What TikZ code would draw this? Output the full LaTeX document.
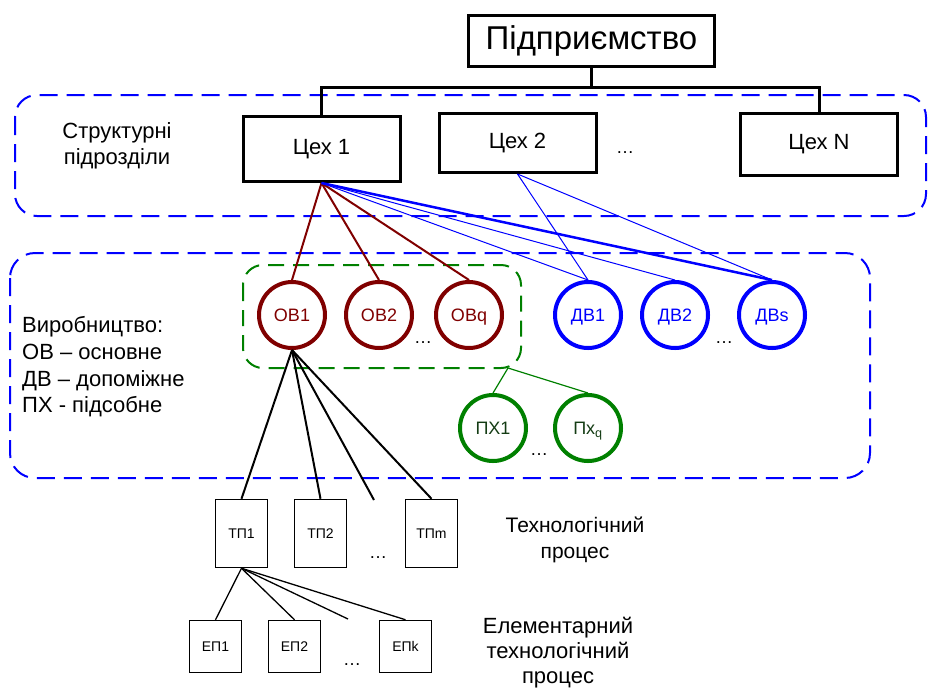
\documentclass[tikz,border=0pt]{standalone}
\usepackage{fontspec}
\setmainfont{Liberation Sans}
\definecolor{obc}{RGB}{128,0,0}
\definecolor{dvc}{RGB}{0,0,255}
\definecolor{pxc}{RGB}{0,128,0}
\definecolor{pxt}{RGB}{20,60,20}
\begin{document}
\begin{tikzpicture}[x=1pt,y=-1pt,
  topbox/.style={draw,line width=3pt,inner sep=0pt,minimum width=246pt,minimum height=51pt,font=\fontsize{33}{36}\selectfont},
  cexbox/.style={draw,line width=3pt,inner sep=0pt,minimum width=157pt,font=\fontsize{22}{25}\selectfont},
  tpbox/.style={draw,line width=1.5pt,inner sep=0pt,minimum width=52pt,minimum height=68pt,font=\fontsize{14}{16}\selectfont},
  epbox/.style={draw,line width=1.5pt,inner sep=0pt,minimum width=52pt,minimum height=52pt,font=\fontsize{14}{16}\selectfont},
  circ/.style={circle,line width=4pt,inner sep=0pt,minimum size=66pt,text height=13pt,text depth=0pt,font=\fontsize{18}{20}\selectfont},
  obcirc/.style={circ,draw=obc,text=obc},
  dvcirc/.style={circ,draw=dvc,text=dvc},
  pxcirc/.style={circ,draw=pxc,text=pxt},
  dashbox/.style={draw=dvc,line width=2pt,dash pattern=on 18pt off 9pt},
  greenbox/.style={draw=pxc,line width=2pt,dash pattern=on 16pt off 9pt,rounded corners=20pt},
  lbl/.style={font=\fontsize{22}{26}\selectfont,align=center,inner sep=0pt},
  dots/.style={font=\fontsize{18}{20}\selectfont,inner sep=0pt},
  obline/.style={draw=obc,line width=2pt},
  dvline/.style={draw=dvc,line width=1pt},
  dvthick/.style={draw=dvc,line width=2.5pt},
  pxline/.style={draw=pxc,line width=1.2pt},
  tpline/.style={draw=black,line width=2pt},
  epline/.style={draw=black,line width=1.3pt}]
\useasboundingbox (0,0) rectangle (928,689);

% dashed group boxes
\draw[dashbox,rounded corners=22pt] (15,95) rectangle (926,216);
\draw[dashbox,rounded corners=25pt] (10,253) rectangle (870,478);
\draw[greenbox] (243,265) rectangle (521,368);

% top level
\node[topbox] (ent) at (591.5,41) {Підприємство};
\node[cexbox,minimum height=65pt] (c1) at (321.5,149) {Цех 1};
\node[cexbox,minimum height=59pt] (c2) at (517.5,143) {Цех 2};
\node[cexbox,minimum height=62pt] (cN) at (819,144.5) {Цех N};
\node[dots] (d0) at (625,153) {…};

\coordinate (bus) at (591.5,87);
\draw[line width=3pt] (ent.south) -- (bus);
\draw[line width=3pt] (c1.north) |- (bus) -| (cN.north);

\node[lbl] (lstr) at (117,146) {Структурні\\підрозділи};

% production circles
\node[obcirc] (ob1) at (292,315) {ОВ1};
\node[obcirc] (ob2) at (379,315) {ОВ2};
\node[obcirc] (obq) at (469,315) {ОВq};
\node[dots] (d1) at (423,343) {…};
\node[dvcirc] (dv1) at (588,315) {ДВ1};
\node[dvcirc] (dv2) at (675,315) {ДВ2};
\node[dvcirc] (dvs) at (772,315) {ДВs};
\node[dots] (d2) at (724,343) {…};
\node[pxcirc] (px1) at (493,428) {ПХ1};
\node[pxcirc] (pxq) at (588,428) {Пх\smash{\textsubscript{q}}};
\node[dots] (d3) at (539,455) {…};

\draw[obline] (c1.south) -- (ob1.north);
\draw[obline] (c1.south) -- (ob2.north);
\draw[obline] (c1.south) -- (obq.north);
\draw[dvline] (c1.south) -- (dv1.north);
\draw[dvline] (c1.south) -- (dv2.north);
\draw[dvthick] (c1.south) -- (dvs.north);
\draw[dvline] (c2.south) -- (dv1.north);
\draw[dvline] (c2.south) -- (dvs.north);

\coordinate (gp) at (508,368);
\draw[pxline] (gp) -- (px1.north);
\draw[pxline] (gp) -- (pxq.north);

\node[font=\fontsize{22}{26.7}\selectfont,align=left,anchor=west,inner sep=0pt] (legend) at (22,367)
  {Виробництво:\\ОВ – основне\\ДВ – допоміжне\\ПХ - підсобне};

% technological processes
\node[tpbox] (tp1) at (241.5,533.5) {ТП1};
\node[tpbox] (tp2) at (320.5,533.5) {ТП2};
\node[tpbox] (tpm) at (431.5,533.5) {ТПm};
\node[dots] (d4) at (378,558) {…};
\coordinate (tpx) at (374,500);
\draw[tpline] (ob1.south) -- (tp1.north);
\draw[tpline] (ob1.south) -- (tp2.north);
\draw[tpline] (ob1.south) -- (tpx);
\draw[tpline] (ob1.south) -- (tpm.north);

\node[font=\fontsize{21}{26}\selectfont,align=center,inner sep=0pt] (ltp) at (575,540) {Технологічний\\процес};

% elementary processes
\node[epbox] (ep1) at (215.5,646.5) {ЕП1};
\node[epbox] (ep2) at (294.5,646.5) {ЕП2};
\node[epbox] (epk) at (405.5,646.5) {ЕПk};
\node[dots] (d5) at (352,665) {…};
\coordinate (epx) at (348,619);
\draw[epline] (tp1.south) -- (ep1.north);
\draw[epline] (tp1.south) -- (ep2.north);
\draw[epline] (tp1.south) -- (epx);
\draw[epline] (tp1.south) -- (epk.north);

\node[font=\fontsize{22}{25}\selectfont,align=center,inner sep=0pt] (lep) at (558,653) {Елементарний\\технологічний\\процес};
\end{tikzpicture}
\end{document}
